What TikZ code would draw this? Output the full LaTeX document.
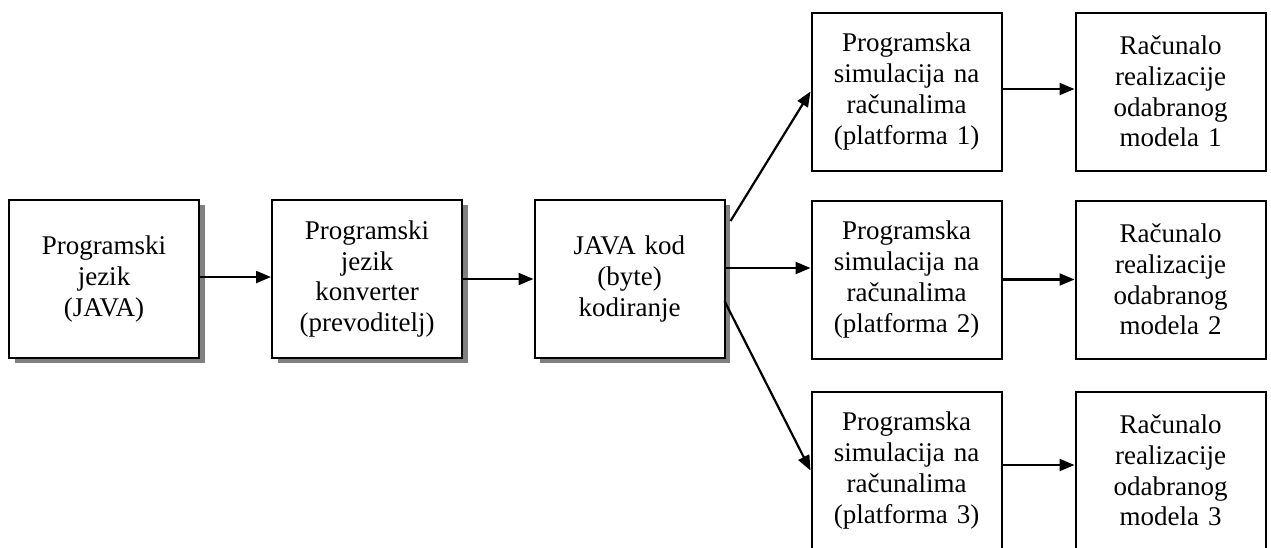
\documentclass[tikz,border=0pt]{standalone}
\usepackage{fontspec}
\setmainfont{Liberation Serif}
\usetikzlibrary{arrows.meta,shadows,calc}
\begin{document}
\begin{tikzpicture}[x=1pt,y=-1pt,
  box/.style={draw=black, line width=2pt, fill=white, inner sep=0pt,
    minimum width=190pt, minimum height=158pt, text width=186pt, align=center,
    font=\fontsize{27}{30.7}\selectfont},
  sbox/.style={box, drop shadow={shadow xshift=5.5pt, shadow yshift=-5pt, fill=black!50, opacity=1}},
  arr/.style={line width=2.2pt, -{Triangle[length=15pt,width=12pt]}}]
\useasboundingbox (0,0) rectangle (1271,547);
\clip (0,0) rectangle (1271,547);
\node[sbox] (B1) at (104,279) {Programski\\jezik\\(JAVA)};
\node[sbox] (B2) at (367,279) {Programski\\jezik\\konverter\\(prevoditelj)};
\node[sbox] (B3) at (629.5,279) {JAVA kod\\(byte)\\kodiranje};
\node[box] (P1) at (906.5,91.5) {Programska\\simulacija na\\računalima\\(platforma 1)};
\node[box] (P2) at (906.5,279.5) {Programska\\simulacija na\\računalima\\(platforma 2)};
\node[box] (P3) at (906.5,470.5) {Programska\\simulacija na\\računalima\\(platforma 3)};
\node[box] (R1) at (1170.5,91.5) {Računalo\\realizacije\\odabranog\\modela 1};
\node[box] (R2) at (1170.5,279.5) {Računalo\\realizacije\\odabranog\\modela 2};
\node[box] (R3) at (1170.5,470.5) {Računalo\\realizacije\\odabranog\\modela 3};
\coordinate (yA) at (0,277);
\coordinate (yB) at (0,268);
\coordinate (yC) at (0,89);
\coordinate (yD) at (0,465);
\coordinate (s1) at ($(B3.north east)+(5,22)$);
\coordinate (s3) at ($(B3.north east)+(-1,102)$);
\draw[arr] (B1.east |- yA) -- (B2.west |- yA);
\draw[arr] (B2.east) -- (B3.west);
\draw[arr] (s1) -- (P1.west);
\draw[arr] (B3.east |- yB) -- (P2.west |- yB);
\draw[arr] (s3) -- (P3.west);
\draw[arr] (P1.east |- yC) -- (R1.west |- yC);
\draw[arr] (P2.east) -- (R2.west);
\draw[arr] (P3.east |- yD) -- (R3.west |- yD);
\end{tikzpicture}
\end{document}
